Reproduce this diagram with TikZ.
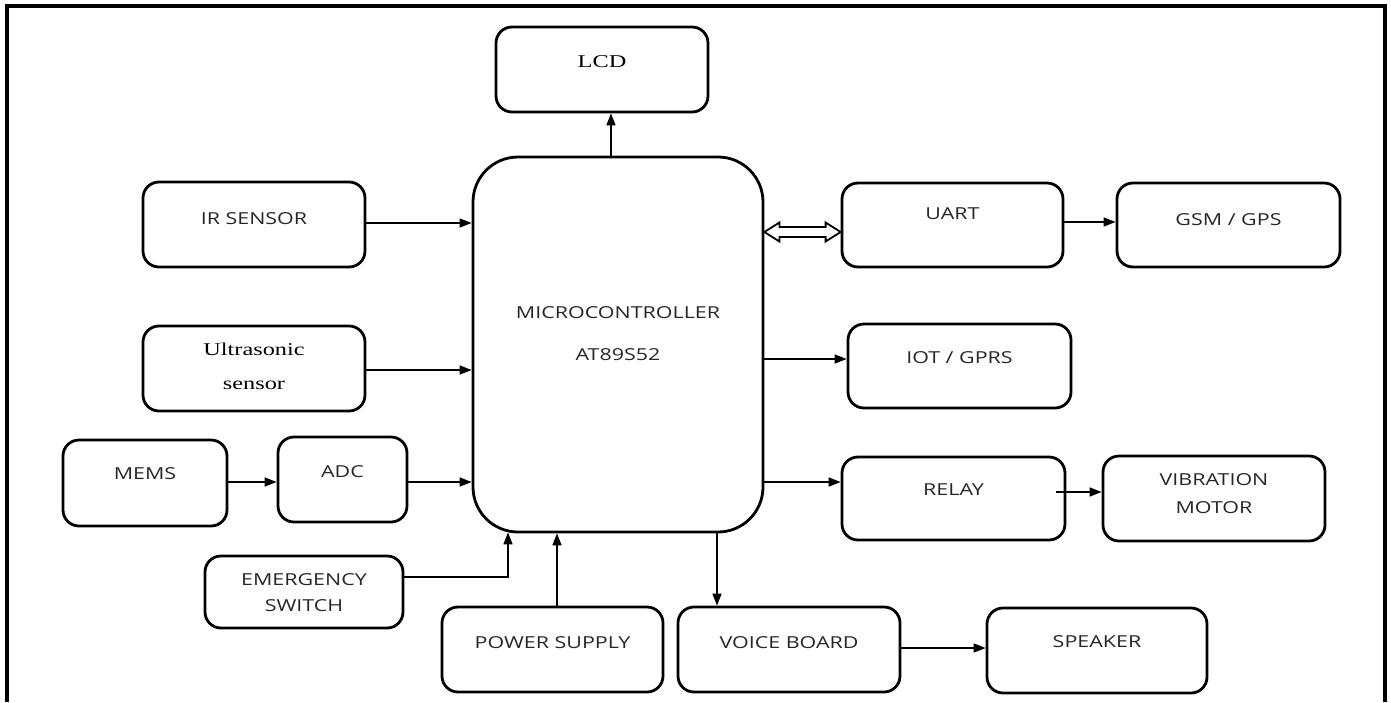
\documentclass[tikz,border=0pt]{standalone}
\usepackage{fontspec}
\usetikzlibrary{arrows.meta,calc}
\newfontfamily\boxsans[FakeStretch=1.3]{Open Sans}
\newfontfamily\boxserif[FakeStretch=1.35]{Liberation Serif}
\definecolor{txt}{HTML}{262626}
\tikzset{
  blk/.style={draw, line width=2.8pt, rounded corners=16pt, inner sep=0pt, align=center,
    text=txt, font=\boxsans\fontsize{16.5}{20}\selectfont, text height=12pt,
    minimum width=222pt, minimum height=85pt},
  sblk/.style={blk, text=black, font=\boxserif\fontsize{18}{21.6}\selectfont},
  arr/.style={line width=1.6pt, -{Triangle[length=12pt,width=9pt]}},
  hollow/.style={line width=1.8pt, line join=miter, fill=white},
  frame/.style={line width=3.4pt}
}
\begin{document}
\begin{tikzpicture}[x=1pt,y=-1pt]
\useasboundingbox (0,0) rectangle (1391,702);
\draw[frame] (7,702) -- (7,6) -- (1385,6) -- (1385,702);

\node[sblk, minimum width=212pt, text depth=17pt] (lcd) at (602,69.5) {LCD};
\node[blk, rounded corners=45pt, minimum width=290pt, minimum height=375pt, text height=31pt, text depth=0pt] (mcu) at (618,344.5) {MICROCONTROLLER\\[22pt]AT89S52};
\node[blk, text depth=13pt] (ir) at (254,224.5) {IR SENSOR};
\node[sblk, text height=41pt, text depth=0pt] (ult) at (254,368.5) {Ultrasonic\\[12.4pt]sensor};
\node[blk, minimum width=164pt, minimum height=86pt, text depth=20pt] (mems) at (145,483) {MEMS};
\node[blk, minimum width=129pt, text depth=17pt] (adc) at (342.5,479.5) {ADC};
\node[blk, minimum width=198pt, minimum height=72pt, text height=38pt, text depth=0pt] (emer) at (304,592) {EMERGENCY\\[6pt]SWITCH};
\node[blk, minimum width=221pt, text depth=15pt] (pwr) at (552.5,649.5) {POWER SUPPLY};
\node[blk, text depth=15pt] (voice) at (789,649.5) {VOICE BOARD};
\node[blk, minimum width=220pt, text depth=19pt] (spk) at (1097,650.5) {SPEAKER};
\node[blk, minimum width=221pt, minimum height=84pt, text depth=24pt] (uart) at (952.5,225) {UART};
\node[blk, minimum width=223pt, minimum height=84pt, text depth=12pt] (gsm) at (1228.5,225) {GSM / GPS};
\node[blk, minimum width=223pt, minimum height=84pt, text depth=18pt] (iot) at (959.5,366) {IOT / GPRS};
\node[blk, minimum width=223pt, minimum height=83pt, text depth=19pt] (relay) at (953.5,498.5) {RELAY};
\node[blk, text height=29pt, text depth=0pt] (vib) at (1214,498.5) {VIBRATION\\[8pt]MOTOR};

% connectors
\draw[arr] ($(mcu.north)+(-7,0)$) coordinate (lcdup) -- (lcdup |- lcd.south);
\draw[arr] ($(ir.east)+(0,-1.5)$) coordinate (irr) -- (irr -| mcu.west);
\draw[arr] ($(ult.east)+(0,1.5)$) coordinate (ultr) -- (ultr -| mcu.west);
\draw[arr] ($(mems.east)+(0,-1)$) coordinate (memsr) -- (memsr -| adc.west);
\draw[arr] ($(adc.east)+(0,2.5)$) coordinate (adcr) -- (adcr -| mcu.west);
\draw[arr] ($(emer.east)+(0,-15)$) coordinate (emr) -| ($(mcu.south)+(-110,-1)$);
\draw[arr] ($(pwr.north)+(4.5,0)$) coordinate (pwru) -- (pwru |- mcu.south);
\draw[arr] ($(mcu.south)+(99,0)$) coordinate (vdn) -- (vdn |- voice.north);
\draw[arr] ($(uart.east)+(0,-3)$) coordinate (uartr) -- (uartr -| gsm.west);
\draw[arr] ($(iot.west)+(0,-7)$) coordinate (iotl) (iotl -| mcu.east) -- (iotl);
\draw[arr] ($(relay.west)+(0,-16.5)$) coordinate (rell) (rell -| mcu.east) -- (rell);
\draw[arr] ($(relay.east)+(-10,-6.5)$) coordinate (relr) -- (relr -| vib.west);
\draw[arr] ($(voice.east)+(0,-1.5)$) coordinate (voir) -- (voir -| spk.west);

% hollow double arrow between MCU and UART
\coordinate (dl) at ($(mcu.east)+(0,-112.5)$);
\coordinate (dr) at (dl -| uart.west);
\draw[hollow] (dl) -- ($(dl)+(15,-9.5)$) -- ($(dl)+(15,-5)$) -- ($(dr)+(-15,-5)$)
  -- ($(dr)+(-15,-9.5)$) -- (dr) -- ($(dr)+(-15,9.5)$) -- ($(dr)+(-15,5)$)
  -- ($(dl)+(15,5)$) -- ($(dl)+(15,9.5)$) -- cycle;
\end{tikzpicture}
\end{document}
